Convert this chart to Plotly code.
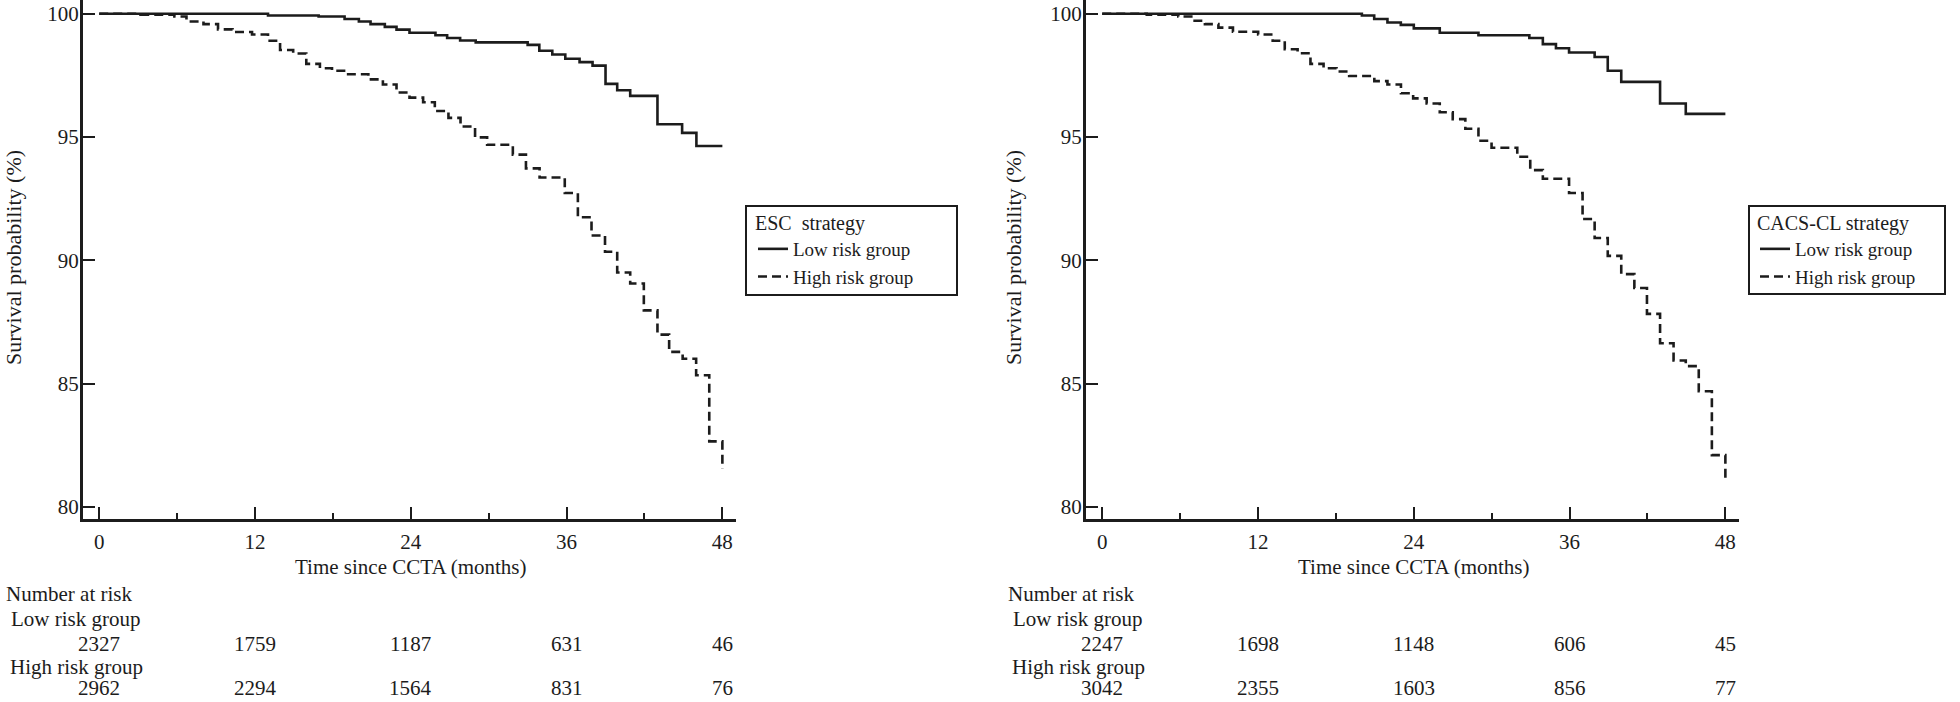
import plotly.graph_objects as go

# ---------------- data ----------------
months_ticks = [0, 12, 24, 36, 48]
minor_ticks = [6, 18, 30, 42]
y_ticks = [80, 85, 90, 95, 100]

# ESC strategy
esc_low_t = [0, 13.0, 16.9, 18.9, 20.0, 20.9, 22.0, 22.9, 23.9, 25.9, 26.8, 27.8, 29.0,
             33.0, 33.9, 34.9, 35.9, 37.0, 38.0, 39.0, 39.9, 40.9, 43.0, 44.9, 46.0, 48.0]
esc_low_s = [100, 99.93, 99.89, 99.79, 99.69, 99.58, 99.47, 99.36, 99.23, 99.13, 99.02, 98.92, 98.84,
             98.74, 98.50, 98.35, 98.18, 98.04, 97.90, 97.16, 96.90, 96.67, 95.52, 95.17, 94.64, 94.64]
esc_high_t = [0, 3.18, 5.79, 6.72, 8.03, 9.15, 10.27, 11.77, 13.0, 13.93, 14.94, 15.95, 17.0,
              17.93, 18.86, 20.73, 21.85, 22.9, 23.9, 24.95, 25.85, 26.9, 27.83, 28.95, 29.88,
              31.86, 32.87, 33.92, 35.86, 36.87, 37.92, 38.96, 39.9, 40.9, 41.95, 43.0, 43.9,
              44.94, 45.98, 46.99, 48.0]
esc_high_s = [100, 99.96, 99.89, 99.69, 99.58, 99.37, 99.26, 99.16, 98.91, 98.53, 98.39, 97.97, 97.79,
              97.69, 97.55, 97.34, 97.13, 96.81, 96.60, 96.41, 96.06, 95.78, 95.43, 94.99, 94.69,
              94.29, 93.73, 93.36, 92.73, 91.75, 91.01, 90.35, 89.51, 89.06, 87.97, 86.99, 86.29,
              86.01, 85.34, 82.66, 81.54]

# CACS-CL strategy
cacs_low_t = [0, 20.0, 20.95, 21.97, 23.0, 24.0, 26.0, 28.98, 32.9, 33.94, 34.95, 35.96,
              37.93, 38.94, 39.98, 42.97, 44.95, 48.0]
cacs_low_s = [100, 99.93, 99.79, 99.65, 99.55, 99.41, 99.23, 99.13, 99.02, 98.77, 98.60, 98.43,
              98.25, 97.69, 97.24, 96.36, 95.94, 95.94]
cacs_high_t = [0, 3.43, 5.86, 6.86, 7.91, 8.95, 10.07, 12.01, 13.13, 14.06, 15.05, 16.04, 17.05,
               18.05, 19.02, 20.96, 21.97, 23.01, 23.95, 24.99, 26.0, 27.0, 27.97, 28.98, 29.99,
               31.97, 32.97, 33.94, 35.96, 37.0, 37.93, 38.94, 39.98, 40.99, 41.96, 42.97, 44.01,
               44.95, 45.95, 46.96, 48.0]
cacs_high_s = [100, 99.96, 99.89, 99.72, 99.58, 99.44, 99.27, 99.16, 98.91, 98.56, 98.40, 97.97, 97.79,
               97.66, 97.48, 97.27, 97.13, 96.78, 96.57, 96.36, 96.01, 95.73, 95.34, 94.85, 94.57,
               94.20, 93.66, 93.31, 92.73, 91.68, 90.91, 90.18, 89.44, 88.88, 87.83, 86.64, 85.94,
               85.71, 84.69, 82.10, 80.98]

esc_risk_low = [2327, 1759, 1187, 631, 46]
esc_risk_high = [2962, 2294, 1564, 831, 76]
cacs_risk_low = [2247, 1698, 1148, 606, 45]
cacs_risk_high = [3042, 2355, 1603, 856, 77]

legend_titles = ["ESC\u00a0 strategy", "CACS-CL strategy"]
group_names = ["Low risk group", "High risk group"]
x_title = "Time since CCTA (months)"
y_title = "Survival probability (%)"

# ---------------- layout constants ----------------
W, H = 1960, 702
PLOT_H = 519                # plot area height in px (top margin 0)
FONT = "Liberation Serif, Times New Roman, serif"
INK = "#1c1c1c"


def px_x(p):
    """screen x pixel -> paper x"""
    return p / W


def px_y(p):
    """screen y pixel -> paper y"""
    return (PLOT_H - p) / PLOT_H


fig = go.Figure()

panels = [
    dict(xa="x", ya="y", low=(esc_low_t, esc_low_s), high=(esc_high_t, esc_high_s),
         legend="legend", risk=(esc_risk_low, esc_risk_high)),
    dict(xa="x2", ya="y2", low=(cacs_low_t, cacs_low_s), high=(cacs_high_t, cacs_high_s),
         legend="legend2", risk=(cacs_risk_low, cacs_risk_high)),
]

for p in panels:
    fig.add_trace(go.Scatter(x=p["low"][0], y=p["low"][1], mode="lines", line_shape="hv",
                             name=group_names[0], xaxis=p["xa"], yaxis=p["ya"], legend=p["legend"],
                             line=dict(color=INK, width=2.6)))
    fig.add_trace(go.Scatter(x=p["high"][0], y=p["high"][1], mode="lines", line_shape="hv",
                             name=group_names[1], xaxis=p["xa"], yaxis=p["ya"], legend=p["legend"],
                             line=dict(color=INK, width=2.6, dash="9px,5px")))

xrange_ = [-1.25, 49.05]
yrange_ = [79.51, 100.56]

axis_common = dict(showgrid=False, zeroline=False, showline=True, linecolor=INK, linewidth=3,
                   ticks="inside", tickcolor=INK, tickwidth=2, ticklen=12, automargin=False,
                   ticklabeloverflow="allow",
                   tickfont=dict(family=FONT, size=21, color=INK))

xaxis_kw = dict(axis_common, range=xrange_, tickmode="array", tickvals=months_ticks,
                ticktext=[str(v) for v in months_ticks], ticklabelstandoff=2,
                minor=dict(tickmode="array", tickvals=minor_ticks, ticks="inside", ticklen=6,
                           tickwidth=2, tickcolor=INK, showgrid=False))
yaxis_kw = dict(axis_common, range=yrange_, tickmode="array", tickvals=y_ticks,
                ticktext=[str(v) for v in y_ticks], ticklabelstandoff=-3)

left_dom = [px_x(83), px_x(736)]
right_dom = [px_x(1086), px_x(1739)]

fig.update_layout(
    width=W, height=H,
    margin=dict(l=0, r=0, t=0, b=H - PLOT_H, pad=0),
    paper_bgcolor="white", plot_bgcolor="white",
    font=dict(family=FONT, size=21, color=INK),
    xaxis=dict(xaxis_kw, domain=left_dom, anchor="y"),
    yaxis=dict(yaxis_kw, domain=[0, 1], anchor="x"),
    xaxis2=dict(xaxis_kw, domain=right_dom, anchor="y2"),
    yaxis2=dict(yaxis_kw, domain=[0, 1], anchor="x2"),
    showlegend=True,
)

legend_common = dict(bgcolor="rgba(0,0,0,0)", borderwidth=0, xanchor="left", yanchor="top",
                     font=dict(family=FONT, size=19, color=INK), tracegroupgap=0,
                     itemclick=False, itemdoubleclick=False)
fig.update_layout(
    legend=dict(legend_common, x=px_x(753), y=px_y(204),
                title=dict(text=legend_titles[0], font=dict(family=FONT, size=20, color=INK))),
    legend2=dict(legend_common, x=px_x(1755), y=px_y(204),
                 title=dict(text=legend_titles[1], font=dict(family=FONT, size=20, color=INK))),
)

# legend frames
for x0, x1, y0, y1 in [(746, 957, 206, 295), (1749, 1945, 206, 294)]:
    fig.add_shape(type="rect", xref="paper", yref="paper", x0=px_x(x0), x1=px_x(x1),
                  y0=px_y(y1), y1=px_y(y0), line=dict(color=INK, width=2), fillcolor="rgba(0,0,0,0)")

ann = []
for p, yt_x, lab_x in [(panels[0], 13, 4), (panels[1], 1013, 1006)]:
    # axis titles
    ann.append(dict(text=x_title, xref=p["xa"], x=24, yref="paper", y=px_y(567),
                    showarrow=False, xanchor="center", yanchor="middle",
                    font=dict(family=FONT, size=21, color=INK)))
    ann.append(dict(text=y_title, xref="paper", x=px_x(yt_x), yref="paper", y=px_y(258),
                    showarrow=False, textangle=-90, xanchor="center", yanchor="middle",
                    font=dict(family=FONT, size=22, color=INK)))
    # number at risk table
    ann.append(dict(text="Number at risk", xref="paper", x=px_x(lab_x), yref="paper", y=px_y(594),
                    showarrow=False, xanchor="left", yanchor="middle",
                    font=dict(family=FONT, size=21, color=INK)))
    ann.append(dict(text=group_names[0], xref="paper", x=px_x(lab_x + 5), yref="paper", y=px_y(619),
                    showarrow=False, xanchor="left", yanchor="middle",
                    font=dict(family=FONT, size=21, color=INK)))
    ann.append(dict(text=group_names[1], xref="paper", x=px_x(lab_x + 4), yref="paper", y=px_y(667),
                    showarrow=False, xanchor="left", yanchor="middle",
                    font=dict(family=FONT, size=21, color=INK)))
    for t, n_low, n_high in zip(months_ticks, p["risk"][0], p["risk"][1]):
        ann.append(dict(text=str(n_low), xref=p["xa"], x=t, yref="paper", y=px_y(644),
                        showarrow=False, xanchor="center", yanchor="middle",
                        font=dict(family=FONT, size=21, color=INK)))
        ann.append(dict(text=str(n_high), xref=p["xa"], x=t, yref="paper", y=px_y(688),
                        showarrow=False, xanchor="center", yanchor="middle",
                        font=dict(family=FONT, size=21, color=INK)))

fig.update_layout(annotations=ann)

fig.write_html(
    "out.html",
    config={"displayModeBar": False},
    post_script="document.body.style.margin='0px';document.documentElement.style.overflow='hidden';",
)
